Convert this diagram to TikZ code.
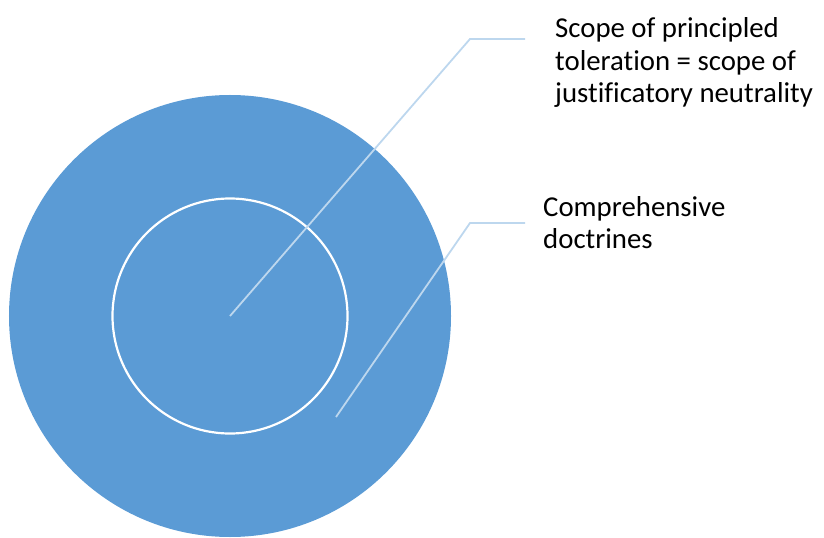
\documentclass[tikz,border=0pt]{standalone}
\usepackage{fontspec}
\setmainfont{Carlito}[Ligatures=NoCommon]
\definecolor{ringblue}{RGB}{91,155,213}
\definecolor{leaderblue}{RGB}{189,215,238}
\begin{document}
\begin{tikzpicture}[x=1bp,y=-1bp,
		leader/.style={draw=leaderblue,line width=1.8bp},
		lbl/.style={anchor=base west,align=left,inner sep=0pt,font=\fontsize{28.8bp}{32.8bp}\selectfont}]
				\useasboundingbox (0,0) rectangle (824,538);
				% the two rings
				\node[circle,fill=ringblue,inner sep=0pt,minimum size=442bp] (doctrines) at (230,316) {};
				\node[circle,draw=white,line width=2.2bp,inner sep=0pt,minimum size=235bp] (scope) at (230,316) {};
				% labels (anchored on the last line)
				\node[lbl] (scopelbl) at (555,103) {Scope of principled\\toleration = scope of\\justificatory neutrality};
				\node[lbl] (doclbl) at (543,249) {Comprehensive\\doctrines};
				% leader lines
				\coordinate (docpin) at (336,417);
				\coordinate (scopebend) at (470,39);
				\coordinate (scopetip) at (525,39);
				\coordinate (docbend) at (470,223);
				\coordinate (doctip) at (525,223);
				\draw[leader] (scope.center) -- (scopebend) -- (scopetip);
				\draw[leader] (docpin) -- (docbend) -- (doctip);
			\end{tikzpicture}
\end{document}
